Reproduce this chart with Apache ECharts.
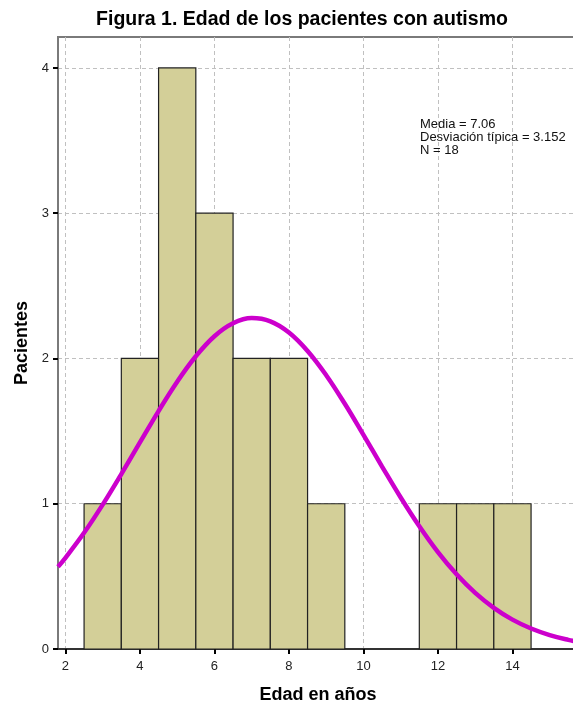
<!DOCTYPE html>
<html>
<head>
<meta charset="utf-8">
<script src="https://cdn.jsdelivr.net/npm/echarts@6/dist/echarts.min.js"></script>
<style>
html,body{margin:0;padding:0;background:#fff;}
#chart{width:573px;height:705px;}
</style>
</head>
<body>
<div id="chart"></div>
<script>
// Histogram bins (centres, years) and counts
const ageBins = [3, 4, 5, 6, 7, 8, 9, 10, 11, 12, 13, 14];
const patients = [1, 2, 4, 3, 2, 2, 1, 0, 0, 1, 1, 1];
// Normal curve points
const curveX = [1.8, 2, 2.5, 3, 3.5, 4, 4.5, 5, 5.5, 6, 6.5, 7, 7.5, 8, 8.5, 9, 9.5, 10, 10.5, 11, 11.5, 12, 12.5, 13, 13.5, 14, 14.5, 15, 15.5, 15.8];
const curveY = [0.566, 0.628, 0.800, 0.994, 1.204, 1.422, 1.638, 1.840, 2.015, 2.153, 2.242, 2.278, 2.256, 2.179, 2.052, 1.885, 1.688, 1.474, 1.256, 1.043, 0.845, 0.667, 0.514, 0.386, 0.283, 0.202, 0.141, 0.096, 0.063, 0.048];
const xTicks = [2, 4, 6, 8, 10, 12, 14];
const yTicks = [0, 1, 2, 3, 4];
const statsLines = ['Media = 7.06', 'Desviación típica = 3.152', 'N = 18'];

const chart = echarts.init(document.getElementById('chart'));
const FONT = '"Liberation Sans", Arial, sans-serif';

const barData = ageBins.map((b, i) => [b, patients[i]]).filter(d => d[1] > 0);
const curveData = curveX.map((x, i) => [x, curveY[i]]);

chart.setOption({
  animation: false,
  backgroundColor: '#fff',
  title: {
    text: 'Figura 1. Edad de los pacientes con autismo',
    left: 297, textAlign: 'center', top: 5,
    textStyle: { fontFamily: FONT, fontSize: 19.5, fontWeight: 'bold', color: '#000' }
  },
  grid: {
    left: 58, right: -5, top: 37, bottom: 56,
    containLabel: false, outerBoundsMode: 'none',
    show: true, borderColor: '#7a7a7a', borderWidth: 2, backgroundColor: 'transparent'
  },
  xAxis: {
    type: 'value', min: 1.8, max: 15.76, interval: 2,
    name: 'Edad en años', nameLocation: 'middle', nameGap: 37,
    nameTextStyle: { fontFamily: FONT, fontSize: 18, fontWeight: 'bold', color: '#000' },
    axisLine: { show: true, onZero: false, lineStyle: { color: '#333', width: 2 } },
    axisTick: { show: true, length: 5, lineStyle: { color: '#000', width: 2 },
      customValues: xTicks },
    axisLabel: { fontFamily: FONT, fontSize: 13, color: '#222', margin: 11,
      customValues: xTicks },
    splitLine: { show: true, lineStyle: { color: '#c0c0c0', type: [4, 3], width: 1 } }
  },
  yAxis: {
    type: 'value', min: 0, max: 4.213, interval: 1,
    name: 'Pacientes', nameLocation: 'middle', nameGap: 27,
    nameTextStyle: { fontFamily: FONT, fontSize: 18, fontWeight: 'bold', color: '#000' },
    axisLine: { show: true, lineStyle: { color: '#7a7a7a', width: 2 } },
    axisTick: { show: true, length: 5, lineStyle: { color: '#000', width: 2 },
      customValues: yTicks },
    axisLabel: { fontFamily: FONT, fontSize: 13, color: '#222', margin: 9,
      customValues: yTicks },
    splitLine: { show: true, lineStyle: { color: '#c0c0c0', type: [4, 3], width: 1 } }
  },
  graphic: [{
    type: 'text', left: 420, top: 118, z: 100,
    style: { text: statsLines.join('\n'), fontFamily: FONT, fontSize: 13, lineHeight: 13, fill: '#111' }
  }],
  series: [{
    type: 'custom',
    data: barData,
    renderItem: function (params, api) {
      const x = api.value(0), y = api.value(1);
      const p0 = api.coord([x - 0.5, 0]);
      const p1 = api.coord([x + 0.5, y]);
      return {
        type: 'rect',
        shape: { x: p0[0], y: p1[1], width: p1[0] - p0[0], height: p0[1] - p1[1] },
        style: { fill: '#d3cf98', stroke: '#222', lineWidth: 1.2 }
      };
    },
    z: 2
  }, {
    type: 'line',
    data: curveData,
    smooth: 0.4,
    showSymbol: false,
    lineStyle: { color: '#cc00cc', width: 4.5 },
    clip: true,
    z: 3
  }]
});
</script>
</body>
</html>
